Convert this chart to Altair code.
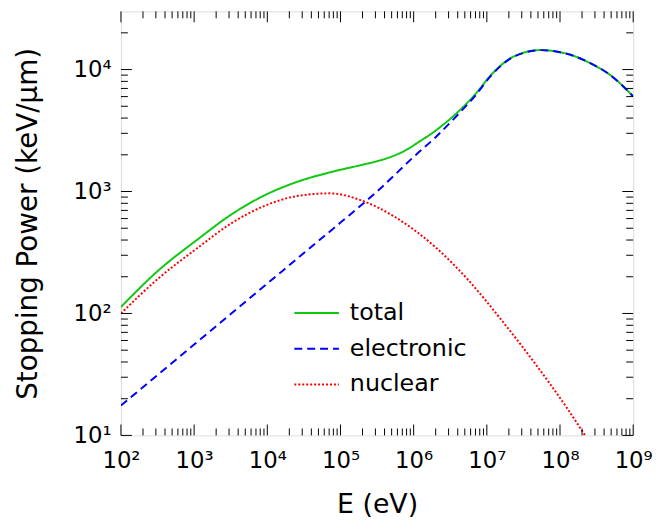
import altair as alt
import pandas as pd

# ---- data (E in eV, stopping power in keV/um) ----
total_E = [1e2, 3.16e2, 1.13e3, 3.2e3, 9.02e3, 2.54e4, 7.16e4, 2.02e5, 3.8e5, 5.71e5,
           8.71e5, 1.07e6, 2.0e6, 4.07e6, 6.92e6, 1.15e7, 1.95e7, 3.24e7, 5.5e7,
           9.1e7, 1.58e8, 2.57e8, 4.79e8, 1e9]
total_S = [113, 222, 407, 646, 926, 1198, 1436, 1660, 1828, 1995,
           2265, 2455, 3162, 4519, 6252, 9078, 12023, 13804, 14454,
           14028, 12882, 11298, 9078, 6026]

elec_E = [1e2, 3.16e2, 1e3, 3.16e3, 1e4, 3.16e4, 1e5, 3.16e5, 1.07e6, 2.0e6, 4.07e6,
          6.92e6, 1.15e7, 1.95e7, 3.24e7, 5.5e7, 9.1e7, 1.58e8, 2.57e8, 4.79e8, 1e9]
elec_S = [17.6, 31.3, 55.6, 98.9, 176, 313, 556, 1000, 1995, 2790, 4306,
          6090, 8961, 11943, 13750, 14430, 14020, 12880, 11298, 9078, 6026]

nuc_E = [1e2, 3.16e2, 1.13e3, 3.2e3, 9.02e3, 2.54e4, 7.16e4, 2.02e5, 5.71e5,
         2.0e6, 5.62e6, 1.58e7, 4.47e7, 1.26e8, 2.2e8]
nuc_S = [100, 191, 347, 547, 759, 918, 966, 836, 612,
         348, 187, 88.5, 39.5, 16.6, 10.0]

series_names = ["total", "electronic", "nuclear"]
series_colors = ["#11c811", "#0000ff", "#ff0000"]
series_dashes = [[1, 0], [8, 5], [2, 2]]

x_major = [1e2, 1e3, 1e4, 1e5, 1e6, 1e7, 1e8, 1e9]
y_major = [1e1, 1e2, 1e3, 1e4]
x_minor = [m * 10 ** k for k in range(2, 9) for m in range(2, 10)]
y_minor = [m * 10 ** k for k in range(1, 5) for m in range(2, 10) if m * 10 ** k < 3e4]

W, H = 517, 428
FONT = "DejaVu Sans"
MAJ, MIN = 11, 7

rows = []
for name, Es, Ss in zip(series_names, [total_E, elec_E, nuc_E], [total_S, elec_S, nuc_S]):
    for e, s in zip(Es, Ss):
        rows.append({"series": name, "E": e, "S": s})
df = pd.DataFrame(rows)

xs = alt.Scale(type="log", domain=[1e2, 1e9], nice=False)
ys = alt.Scale(type="log", domain=[10, 3e4], nice=False)

sup = "['⁰','¹','²','³','⁴','⁵','⁶','⁷','⁸','⁹']"
label_expr = "'10' + " + sup + "[round(log(datum.value)/LN10)]"

xaxis = alt.Axis(values=x_major, labelExpr=label_expr, ticks=False, domain=False, grid=False,
                 labelFont=FONT, labelFontSize=23, labelColor="black", labelPadding=14,
                 labelFlush=False, labelOverlap=False,
                 title="E (eV)", titleFont=FONT, titleFontSize=27, titleFontWeight="normal",
                 titleColor="black", titlePadding=20)
yaxis = alt.Axis(values=y_major, labelExpr=label_expr, ticks=False, domain=False, grid=False,
                 labelFont=FONT, labelFontSize=23, labelColor="black", labelPadding=10,
                 labelFlush=False, labelOverlap=False,
                 title="Stopping Power (keV/μm)", titleFont=FONT, titleFontSize=28,
                 titleFontWeight="normal", titleColor="black", titlePadding=31)

legend = alt.Legend(title=None, orient="none", legendX=174, legendY=281,
                    symbolType="stroke", symbolSize=2025, symbolStrokeWidth=2,
                    labelFont=FONT, labelFontSize=24, labelColor="black",
                    labelOffset=10, rowPadding=-10)

color = alt.Color("series:N", scale=alt.Scale(domain=series_names, range=series_colors), legend=legend)
dash = alt.StrokeDash("series:N", scale=alt.Scale(domain=series_names, range=series_dashes), legend=legend)

layers = []
for name in series_names:
    layers.append(
        alt.Chart(df).transform_filter(alt.datum.series == name)
        .mark_line(strokeWidth=2, interpolate="monotone", clip=True)
        .encode(x=alt.X("E:Q", scale=xs, axis=xaxis),
                y=alt.Y("S:Q", scale=ys, axis=yaxis),
                color=color, strokeDash=dash)
    )

def xtick_layer(vals, y0, y1):
    return alt.Chart(pd.DataFrame({"E": vals})).mark_rule(color="black", strokeWidth=1).encode(
        x=alt.X("E:Q", scale=xs, axis=xaxis), y=alt.value(y0), y2=alt.value(y1))

def ytick_layer(vals, x0, x1):
    return alt.Chart(pd.DataFrame({"S": vals})).mark_rule(color="black", strokeWidth=1).encode(
        y=alt.Y("S:Q", scale=ys, axis=yaxis), x=alt.value(x0), x2=alt.value(x1))

layers += [
    xtick_layer(x_major, H, H - MAJ), xtick_layer(x_minor, H, H - MIN),
    xtick_layer(x_major, 0, MAJ), xtick_layer(x_minor, 0, MIN),
    ytick_layer(y_major, 0, MAJ), ytick_layer(y_minor, 0, MIN),
    ytick_layer(y_major, W, W - MAJ), ytick_layer(y_minor, W, W - MIN),
]

chart = alt.layer(*layers).properties(
    width=W, height=H,
    autosize=alt.AutoSizeParams(type="none"),
    padding={"left": 114, "top": 1, "right": 20, "bottom": 86},
).configure_view(stroke="black", strokeWidth=1.4).configure(background="white")

chart.save("out.html", embed_options={"renderer": "svg", "actions": False})
